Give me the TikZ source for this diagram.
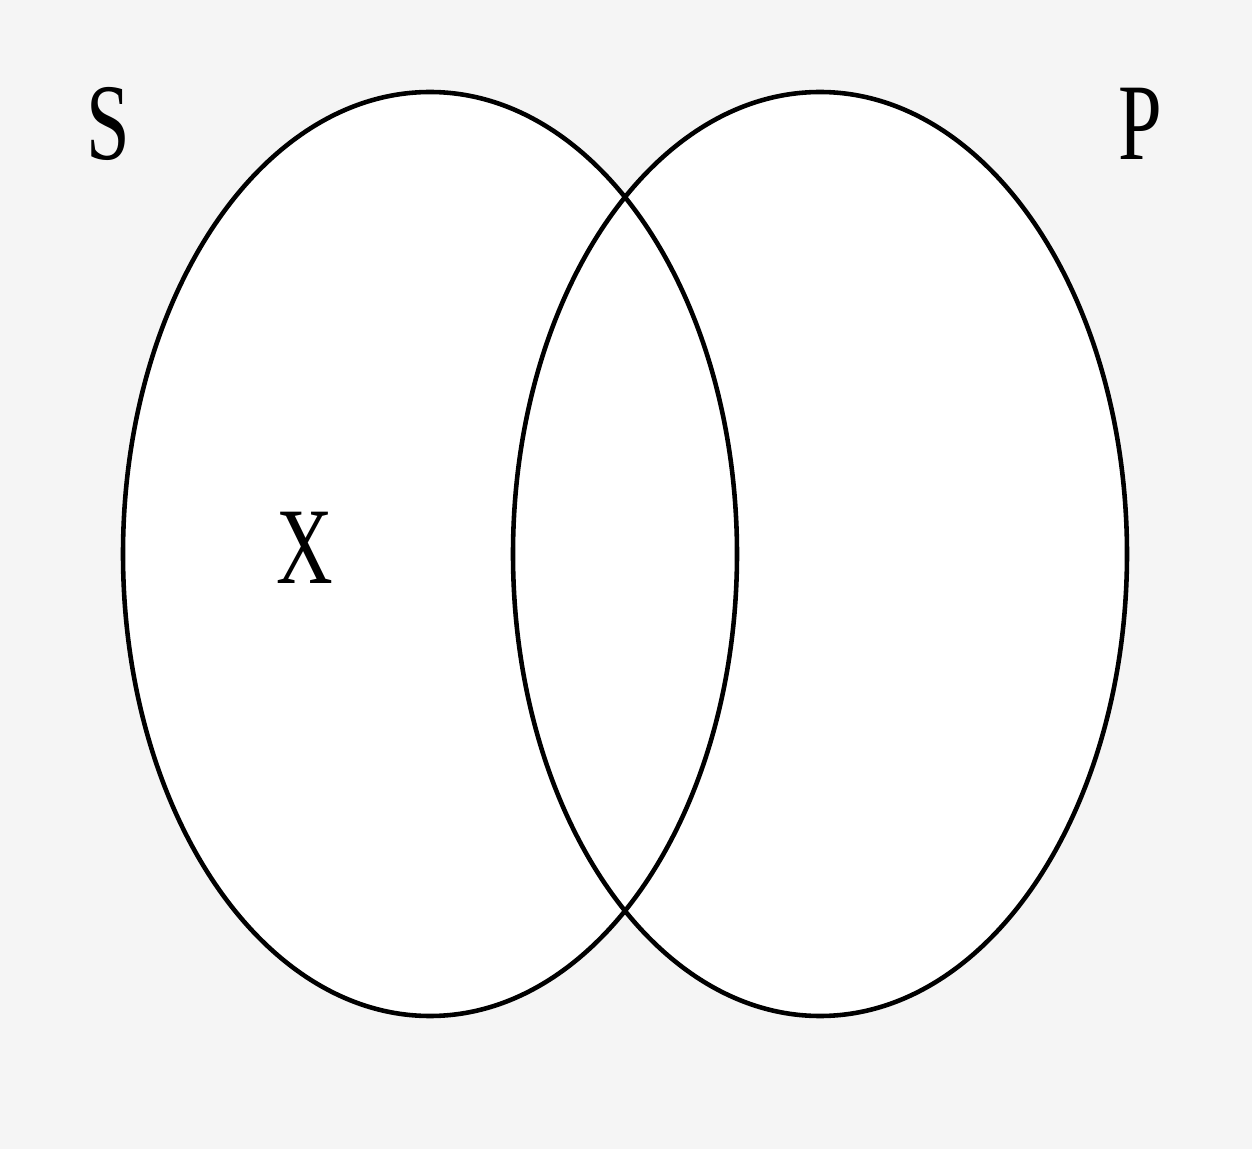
\documentclass[tikz,border=0pt]{standalone}
\usepackage{fontspec}
\setmainfont{Liberation Serif}
\usepackage{xcolor}
\definecolor{paper}{RGB}{245,245,245}

\begin{document}
\begin{tikzpicture}[
    venn/.style={line width=1.3pt, draw=black},
    lbl/.style={font=\fontsize{31}{31}\selectfont, xscale=0.72, inner sep=0pt}
]
    % Background
    \fill[paper] (0,0) rectangle (12.52,-11.49);
    \useasboundingbox (0,0) rectangle (12.52,-11.49);

    % Sets
    \coordinate (s) at (4.30,-5.54);
    \coordinate (p) at (8.20,-5.54);
    \fill[white] (s) ellipse [x radius=3.07, y radius=4.62];
    \fill[white] (p) ellipse [x radius=3.07, y radius=4.62];
    \draw[venn] (s) ellipse [x radius=3.07, y radius=4.62];
    \draw[venn] (p) ellipse [x radius=3.07, y radius=4.62];

    % Labels
    \node[lbl] (labS) at (1.08,-1.24) {S};
    \node[lbl] (labP) at (11.40,-1.24) {P};
    \node[lbl] (labX) at (3.05,-5.48) {X};
\end{tikzpicture}
\end{document}
